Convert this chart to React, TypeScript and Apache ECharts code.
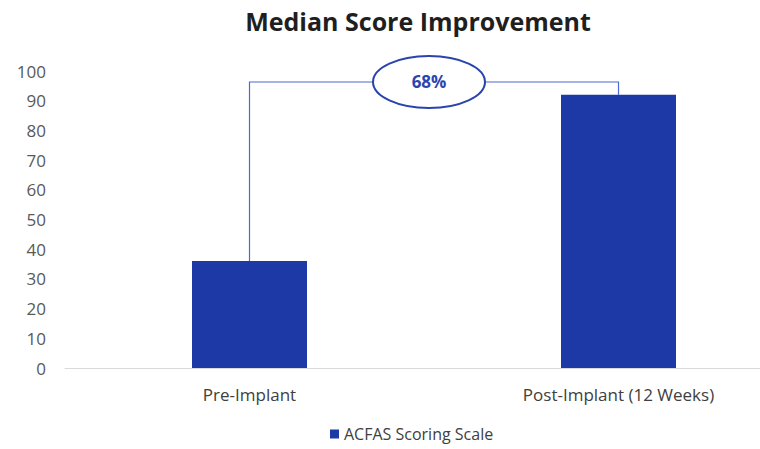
import React, { useEffect, useRef } from "react";
import * as echarts from "echarts";

const categories = ["Pre-Implant", "Post-Implant (12 Weeks)"];
const scores = [36, 92];
const seriesName = "ACFAS Scoring Scale";
const bracketLevel = 96.3;
const improvementLabel = "68%";
const yTicks = { min: 0, max: 100, interval: 10 };

export default function App() {
  const ref = useRef<HTMLDivElement>(null);
  useEffect(() => {
    if (!ref.current) return;
    const chart = echarts.init(ref.current, null, { renderer: "svg" });
    const font = "Open Sans";
    chart.setOption({
      animation: false,
      title: {
        text: "Median Score Improvement",
        left: 413,
        top: 3,
        textAlign: "center",
        textStyle: { fontFamily: font, fontWeight: "bold", fontSize: 25, color: "#1f1f1f" },
      },
      legend: {
        data: [seriesName],
        top: 421,
        left: 325,
        itemWidth: 9,
        itemHeight: 9,
        itemGap: 6,
        icon: "rect",
        textStyle: { fontFamily: font, fontSize: 16, color: "#404040", lineHeight: 16 },
      },
      grid: { left: 65, top: 71, width: 738, height: 297 },
      xAxis: {
        type: "category",
        data: categories,
        axisLine: { lineStyle: { color: "#d9d9d9", width: 1 } },
        axisTick: { show: false },
        axisLabel: { fontFamily: font, fontSize: 17, color: "#404040", margin: 18 },
      },
      yAxis: {
        type: "value",
        min: yTicks.min,
        max: yTicks.max,
        interval: yTicks.interval,
        splitLine: { show: false },
        axisLine: { show: false },
        axisTick: { show: false },
        axisLabel: { fontFamily: font, fontSize: 17, color: "#595959", margin: 19 },
      },
      series: [
        {
          name: seriesName,
          type: "bar",
          data: scores,
          barWidth: 115,
          itemStyle: { color: "#1c39a6" },
        },
        {
          name: "bracket",
          type: "custom",
          data: [[0, bracketLevel]],
          silent: true,
          renderItem: (params: any, api: any) => {
            const level = api.value(1);
            const a0 = api.coord([0, scores[0]]);
            const a1 = api.coord([0, level]);
            const b1 = api.coord([1, level]);
            const b0 = api.coord([1, scores[1]]);
            const cx = (a1[0] + b1[0]) / 2 - 5;
            const cy = a1[1];
            const rx = 56;
            const ry = 26;
            const lineStyle = { stroke: "#4a6bd3", lineWidth: 1.2, fill: "none" };
            return {
              type: "group",
              children: [
                {
                  type: "polyline",
                  shape: { points: [a0, a1, [cx - rx, cy]] },
                  style: lineStyle,
                },
                {
                  type: "polyline",
                  shape: { points: [[cx + rx, cy], b1, b0] },
                  style: lineStyle,
                },
                {
                  type: "ellipse",
                  shape: { cx, cy, rx, ry },
                  style: { fill: "#ffffff", stroke: "#2a44ad", lineWidth: 2 },
                },
                {
                  type: "text",
                  x: cx,
                  y: cy,
                  style: {
                    text: improvementLabel,
                    fill: "#2b45b0",
                    font: `bold 17px "${font}"`,
                    align: "center",
                    verticalAlign: "middle",
                  },
                },
              ],
            };
          },
        },
      ],
    });
    return () => chart.dispose();
  }, []);
  return (
    <div
      style={{
        position: "absolute",
        left: 0,
        top: 0,
        width: 760,
        height: 449,
        overflow: "hidden",
      }}
    >
      <div ref={ref} style={{ width: 806, height: 449 }} />
    </div>
  );
}
